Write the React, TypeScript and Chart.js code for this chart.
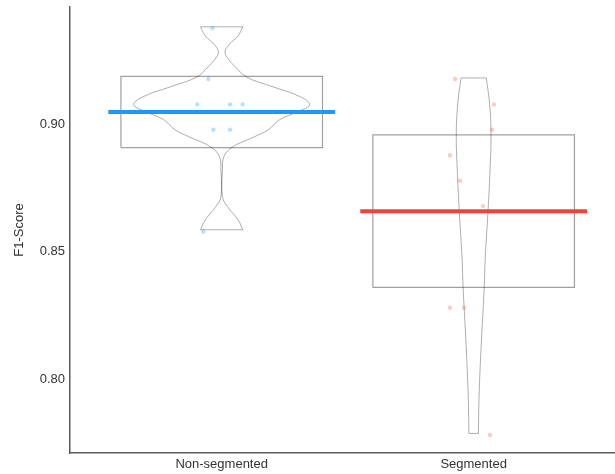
import React, { useEffect, useRef } from "react";
import { Chart, registerables } from "chart.js";

Chart.register(...registerables);

// ---- data ----
const categories = ["Non-segmented", "Segmented"];
const categoryPos = [1, 2];
const yTicks = [0.8, 0.85, 0.9];

const nonSegValues = [0.938, 0.918, 0.908, 0.908, 0.908, 0.898, 0.898, 0.858];
const nonSegJitter = [-0.037, -0.053, -0.097, 0.033, 0.083, -0.033, 0.033, -0.073];
const segValues = [0.918, 0.908, 0.898, 0.888, 0.878, 0.868, 0.828, 0.828, 0.778];
const segJitter = [-0.074, 0.081, 0.073, -0.094, -0.054, 0.037, -0.094, -0.038, 0.065];

const means = [0.905, 0.866];
const boxLow = [0.891, 0.836];
const boxHigh = [0.919, 0.896];

// violin outlines (value, half-width in category units)
const nonSegViolinY = [0.9385, 0.9348, 0.9318, 0.9286, 0.9256, 0.923, 0.9188, 0.9151, 0.9111, 0.9079, 0.9052, 0.902, 0.898, 0.8948, 0.8912, 0.8875, 0.8823, 0.8717, 0.8678, 0.8626, 0.8587];
const nonSegViolinHalf = [0.084, 0.064, 0.032, 0.013, 0.028, 0.052, 0.098, 0.198, 0.31, 0.349, 0.304, 0.23, 0.185, 0.119, 0.042, 0.009, 0.003, 0.003, 0.023, 0.065, 0.084];
const segViolinY = [0.9184, 0.9085, 0.8961, 0.8823, 0.8659, 0.8475, 0.8363, 0.8114, 0.7917, 0.7786];
const segViolinHalf = [0.05, 0.063, 0.069, 0.065, 0.057, 0.046, 0.042, 0.029, 0.021, 0.019];

const seriesColors = ["rgb(33,150,243)", "rgb(244,67,54)"];
const pointColors = ["rgba(33,150,243,0.3)", "rgba(244,67,54,0.28)"];

const X_MIN = 0.398;
const X_MAX = 2.561;
const Y_MIN = 0.7709;
const Y_MAX = 0.9463;

function violinSets(center: number, ys: number[], halves: number[]) {
  const base = {
    type: "line" as const,
    borderColor: "rgba(0,0,0,0.32)",
    borderWidth: 1,
    pointRadius: 0,
    fill: false,
    tension: 0.4,
  };
  const n = ys.length;
  return [
    { ...base, data: ys.map((y, i) => ({ x: center + halves[i], y })) },
    { ...base, data: ys.map((y, i) => ({ x: center - halves[i], y })) },
    { ...base, tension: 0, data: [{ x: center - halves[0], y: ys[0] }, { x: center + halves[0], y: ys[0] }] },
    { ...base, tension: 0, data: [{ x: center - halves[n - 1], y: ys[n - 1] }, { x: center + halves[n - 1], y: ys[n - 1] }] },
  ];
}

function boxSet(center: number, lo: number, hi: number) {
  return {
    type: "line" as const,
    borderColor: "rgba(150,150,150,0.9)",
    borderWidth: 1.2,
    pointRadius: 0,
    fill: false,
    tension: 0,
    borderJoinStyle: "miter" as const,
    data: [
      { x: center - 0.4, y: lo },
      { x: center + 0.4, y: lo },
      { x: center + 0.4, y: hi },
      { x: center - 0.4, y: hi },
      { x: center - 0.4, y: lo },
    ],
  };
}

function meanSet(center: number, m: number, color: string) {
  return {
    type: "line" as const,
    borderColor: color,
    borderWidth: 4,
    borderCapStyle: "butt" as const,
    pointRadius: 0,
    fill: false,
    data: [{ x: center - 0.45, y: m }, { x: center + 0.45, y: m }],
  };
}

function pointSet(center: number, vals: number[], jit: number[], color: string) {
  return {
    type: "scatter" as const,
    backgroundColor: color,
    borderWidth: 0,
    pointRadius: 2.2,
    showLine: false,
    data: vals.map((v, i) => ({ x: center + jit[i], y: v })),
  };
}

export default function App() {
  const ref = useRef<HTMLCanvasElement | null>(null);

  useEffect(() => {
    if (!ref.current) return;
    const datasets: any[] = [
      meanSet(categoryPos[0], means[0], seriesColors[0]),
      meanSet(categoryPos[1], means[1], seriesColors[1]),
      pointSet(categoryPos[0], nonSegValues, nonSegJitter, pointColors[0]),
      pointSet(categoryPos[1], segValues, segJitter, pointColors[1]),
      ...violinSets(categoryPos[0], nonSegViolinY, nonSegViolinHalf),
      ...violinSets(categoryPos[1], segViolinY, segViolinHalf),
      boxSet(categoryPos[0], boxLow[0], boxHigh[0]),
      boxSet(categoryPos[1], boxLow[1], boxHigh[1]),
    ];
    const font = { family: "'Liberation Sans', Arial, sans-serif", size: 13 };
    const chart = new Chart(ref.current, {
      type: "line",
      data: { datasets },
      options: {
        animation: false,
        responsive: false,
        devicePixelRatio: 1,
        layout: { autoPadding: false, padding: { top: 7, right: 0, bottom: 0, left: 0 } },
        plugins: { legend: { display: false }, tooltip: { enabled: false } },
        scales: {
          x: {
            type: "linear",
            min: X_MIN,
            max: X_MAX,
            grid: { display: false, drawTicks: false },
            border: { display: true, color: "#5c5c5c", width: 1.5 },
            afterBuildTicks: (s: any) => {
              s.ticks = categoryPos.map((v) => ({ value: v }));
            },
            afterFit: (s: any) => {
              s.height = 21;
              s.paddingLeft = 0;
              s.paddingRight = 0;
            },
            ticks: {
              autoSkip: false,
              maxRotation: 0,
              padding: 4,
              color: "#333",
              font,
              callback: (v: any) => {
                const i = categoryPos.indexOf(Number(v));
                return i >= 0 ? categories[i] : "";
              },
            },
          },
          y: {
            type: "linear",
            min: Y_MIN,
            max: Y_MAX,
            grid: { display: false, drawTicks: false },
            border: { display: true, color: "#5c5c5c", width: 1.5 },
            afterBuildTicks: (s: any) => {
              s.ticks = yTicks.map((v) => ({ value: v }));
            },
            afterFit: (s: any) => {
              s.width = 70;
              s.paddingTop = 0;
              s.paddingBottom = 0;
            },
            ticks: {
              padding: 5,
              color: "#333",
              font,
              callback: (v: any) => Number(v).toFixed(2),
            },
            title: {
              display: true,
              text: "F1-Score",
              color: "#333",
              font,
              padding: { top: 12, bottom: 0 },
            },
          },
        },
      },
    });
    return () => chart.destroy();
  }, []);

  return (
    <div style={{ position: "fixed", left: 0, top: 0, width: 615, height: 474, background: "#fff" }}>
      <canvas ref={ref} width={615} height={474} style={{ width: 615, height: 474, display: "block" }} />
    </div>
  );
}
